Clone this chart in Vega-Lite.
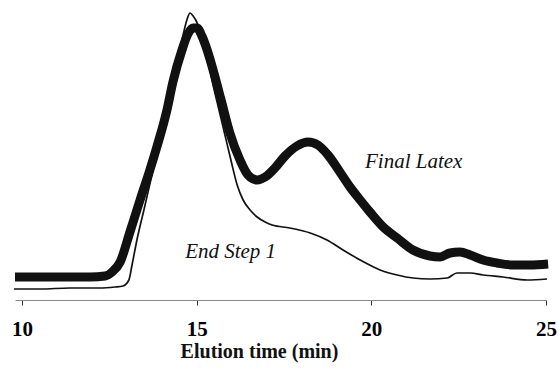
{
  "$schema": "https://vega.github.io/schema/vega-lite/v6.json",
  "width": 531,
  "height": 300,
  "autosize": {"type": "none"},
  "padding": {"left": 15, "right": 12, "top": 0, "bottom": 70},
  "background": "white",
  "config": {"view": {"stroke": null}},
  "datasets": {
    "curves": [
      {"series": "Final Latex", "t": 9.80, "v": 23},
      {"series": "Final Latex", "t": 10.80, "v": 23},
      {"series": "Final Latex", "t": 11.95, "v": 23},
      {"series": "Final Latex", "t": 12.38, "v": 24},
      {"series": "Final Latex", "t": 12.58, "v": 28},
      {"series": "Final Latex", "t": 12.81, "v": 38},
      {"series": "Final Latex", "t": 13.09, "v": 68},
      {"series": "Final Latex", "t": 13.38, "v": 100},
      {"series": "Final Latex", "t": 13.66, "v": 130},
      {"series": "Final Latex", "t": 13.86, "v": 153},
      {"series": "Final Latex", "t": 14.15, "v": 190},
      {"series": "Final Latex", "t": 14.32, "v": 218},
      {"series": "Final Latex", "t": 14.58, "v": 250},
      {"series": "Final Latex", "t": 14.75, "v": 266},
      {"series": "Final Latex", "t": 14.90, "v": 272},
      {"series": "Final Latex", "t": 15.01, "v": 272},
      {"series": "Final Latex", "t": 15.15, "v": 264},
      {"series": "Final Latex", "t": 15.30, "v": 250},
      {"series": "Final Latex", "t": 15.47, "v": 230},
      {"series": "Final Latex", "t": 15.70, "v": 200},
      {"series": "Final Latex", "t": 15.95, "v": 167},
      {"series": "Final Latex", "t": 16.24, "v": 140},
      {"series": "Final Latex", "t": 16.47, "v": 125},
      {"series": "Final Latex", "t": 16.73, "v": 120},
      {"series": "Final Latex", "t": 16.96, "v": 123},
      {"series": "Final Latex", "t": 17.24, "v": 132},
      {"series": "Final Latex", "t": 17.53, "v": 144},
      {"series": "Final Latex", "t": 17.87, "v": 154},
      {"series": "Final Latex", "t": 18.19, "v": 158},
      {"series": "Final Latex", "t": 18.47, "v": 155},
      {"series": "Final Latex", "t": 18.76, "v": 145},
      {"series": "Final Latex", "t": 19.10, "v": 128},
      {"series": "Final Latex", "t": 19.39, "v": 113},
      {"series": "Final Latex", "t": 19.68, "v": 100},
      {"series": "Final Latex", "t": 19.96, "v": 88},
      {"series": "Final Latex", "t": 20.34, "v": 73},
      {"series": "Final Latex", "t": 20.74, "v": 62},
      {"series": "Final Latex", "t": 21.19, "v": 50},
      {"series": "Final Latex", "t": 21.68, "v": 44},
      {"series": "Final Latex", "t": 21.97, "v": 43},
      {"series": "Final Latex", "t": 22.25, "v": 47},
      {"series": "Final Latex", "t": 22.54, "v": 48},
      {"series": "Final Latex", "t": 22.83, "v": 45},
      {"series": "Final Latex", "t": 23.20, "v": 40},
      {"series": "Final Latex", "t": 23.60, "v": 37},
      {"series": "Final Latex", "t": 24.06, "v": 35},
      {"series": "Final Latex", "t": 24.54, "v": 35},
      {"series": "Final Latex", "t": 25.06, "v": 36},
      {"series": "End Step 1", "t": 9.77, "v": 11},
      {"series": "End Step 1", "t": 10.52, "v": 11},
      {"series": "End Step 1", "t": 11.37, "v": 12},
      {"series": "End Step 1", "t": 12.23, "v": 12},
      {"series": "End Step 1", "t": 12.66, "v": 13},
      {"series": "End Step 1", "t": 12.89, "v": 14},
      {"series": "End Step 1", "t": 13.06, "v": 20},
      {"series": "End Step 1", "t": 13.15, "v": 35},
      {"series": "End Step 1", "t": 13.29, "v": 60},
      {"series": "End Step 1", "t": 13.49, "v": 90},
      {"series": "End Step 1", "t": 13.72, "v": 125},
      {"series": "End Step 1", "t": 13.95, "v": 160},
      {"series": "End Step 1", "t": 14.15, "v": 195},
      {"series": "End Step 1", "t": 14.38, "v": 230},
      {"series": "End Step 1", "t": 14.58, "v": 260},
      {"series": "End Step 1", "t": 14.72, "v": 280},
      {"series": "End Step 1", "t": 14.81, "v": 287},
      {"series": "End Step 1", "t": 14.90, "v": 284},
      {"series": "End Step 1", "t": 15.04, "v": 275},
      {"series": "End Step 1", "t": 15.18, "v": 260},
      {"series": "End Step 1", "t": 15.32, "v": 240},
      {"series": "End Step 1", "t": 15.47, "v": 215},
      {"series": "End Step 1", "t": 15.64, "v": 190},
      {"series": "End Step 1", "t": 15.81, "v": 165},
      {"series": "End Step 1", "t": 15.98, "v": 140},
      {"series": "End Step 1", "t": 16.16, "v": 115},
      {"series": "End Step 1", "t": 16.33, "v": 100},
      {"series": "End Step 1", "t": 16.53, "v": 90},
      {"series": "End Step 1", "t": 16.73, "v": 83},
      {"series": "End Step 1", "t": 16.96, "v": 78},
      {"series": "End Step 1", "t": 17.16, "v": 75},
      {"series": "End Step 1", "t": 17.67, "v": 72},
      {"series": "End Step 1", "t": 18.25, "v": 67},
      {"series": "End Step 1", "t": 18.73, "v": 60},
      {"series": "End Step 1", "t": 19.19, "v": 50},
      {"series": "End Step 1", "t": 19.68, "v": 40},
      {"series": "End Step 1", "t": 20.25, "v": 30},
      {"series": "End Step 1", "t": 20.74, "v": 25},
      {"series": "End Step 1", "t": 21.19, "v": 22},
      {"series": "End Step 1", "t": 21.68, "v": 21},
      {"series": "End Step 1", "t": 22.17, "v": 22},
      {"series": "End Step 1", "t": 22.45, "v": 27},
      {"series": "End Step 1", "t": 22.83, "v": 27},
      {"series": "End Step 1", "t": 23.20, "v": 25},
      {"series": "End Step 1", "t": 23.77, "v": 23},
      {"series": "End Step 1", "t": 24.46, "v": 20},
      {"series": "End Step 1", "t": 25.03, "v": 21}
    ],
    "labels": [
      {"label": "Final Latex", "t": 19.82, "v": 132},
      {"label": "End Step 1", "t": 14.67, "v": 42}
    ]
  },
  "encoding": {
    "x": {
      "field": "t", "type": "quantitative",
      "scale": {"domain": [9.8, 25], "nice": false, "zero": false},
      "axis": {
        "title": "Elution time (min)",
        "values": [10, 15, 20, 25],
        "grid": false,
        "domainColor": "#888888",
        "domainWidth": 1.2,
        "tickColor": "#333333",
        "tickSize": 5,
        "tickWidth": 1,
        "labelFont": "Liberation Serif",
        "labelFontWeight": "bold",
        "labelFontSize": 21,
        "labelColor": "#000000",
        "labelPadding": 13,
        "labelFlush": false,
        "titleFont": "Liberation Serif",
        "titleFontWeight": "bold",
        "titleFontSize": 20,
        "titleColor": "#111111",
        "titleBaseline": "alphabetic",
        "titleAlign": "center",
        "titleX": 244,
        "titleY": 57,
        "encode": {
          "labels": {
            "update": {
              "fontWeight": {"value": "bold"},
              "font": {"value": "Liberation Serif"},
              "stroke": {"value": "#000000"},
              "strokeWidth": {"value": 0.4}
            }
          }
        }
      }
    },
    "y": {
      "field": "v", "type": "quantitative",
      "scale": {"domain": [0, 300], "nice": false},
      "axis": null
    }
  },
  "layer": [
    {
      "data": {"name": "curves"},
      "transform": [{"filter": "datum.series === 'Final Latex'"}],
      "mark": {"type": "line", "color": "#111111", "strokeWidth": 9, "interpolate": "monotone"}
    },
    {
      "data": {"name": "curves"},
      "transform": [{"filter": "datum.series === 'End Step 1'"}],
      "mark": {"type": "line", "color": "#111111", "strokeWidth": 1.7, "interpolate": "monotone"}
    },
    {
      "data": {"name": "labels"},
      "mark": {"type": "text", "align": "left", "baseline": "alphabetic", "font": "Liberation Serif", "fontStyle": "italic", "fontSize": 21, "color": "#111111"},
      "encoding": {
        "text": {"field": "label"}
      }
    }
  ]
}
